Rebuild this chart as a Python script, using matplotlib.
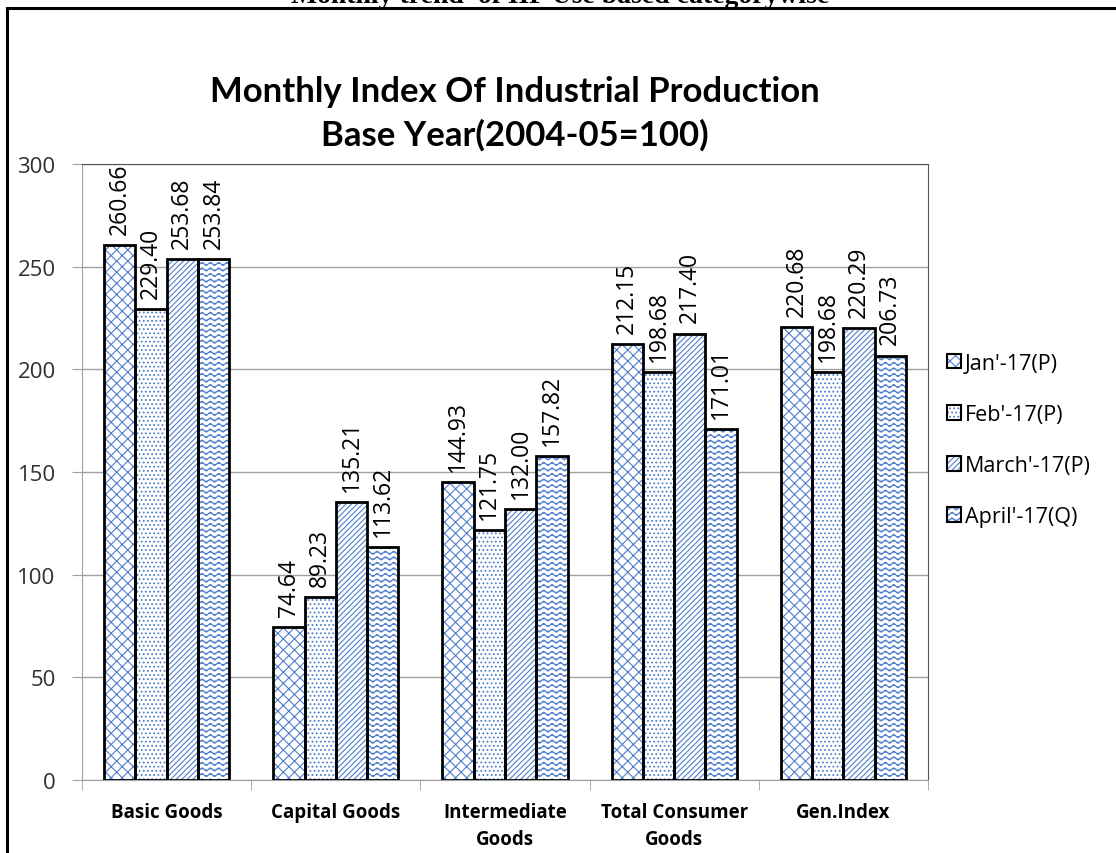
import numpy as np
import matplotlib
matplotlib.use('Agg')
import matplotlib.pyplot as plt
from matplotlib import hatch as mhatch
from matplotlib.patches import Patch
from matplotlib.lines import Line2D
import warnings

warnings.filterwarnings('ignore')

# data
categories = ['Basic Goods', 'Capital Goods', 'Intermediate\nGoods',
              'Total Consumer\nGoods', 'Gen.Index']
months = ["Jan'-17(P)", "Feb'-17(P)", "March'-17(P)", "April'-17(Q)"]
jan = [260.66, 74.64, 144.93, 212.15, 220.68]
feb = [229.40, 89.23, 121.75, 198.68, 198.68]
mar = [253.68, 135.21, 132.00, 217.40, 220.29]
apr = [253.84, 113.62, 157.82, 171.01, 206.73]
yticks = [0, 50, 100, 150, 200, 250, 300]


# wavy hatch, registered as '~'
class WaveHatch(mhatch.HatchPatternBase):
    def __init__(self, hatch, density):
        self.num_lines = int(hatch.count('~') * density)
        self.npts = 97
        self.num_vertices = self.num_lines * self.npts

    def set_vertices_and_codes(self, vertices, codes):
        xs = np.linspace(0, 1, self.npts)
        step = 1.0 / self.num_lines
        for i in range(self.num_lines):
            y0 = (i + 0.5) * step
            ys = y0 + 0.28 * step * np.sin(2 * np.pi * 12 * xs)
            sl = slice(i * self.npts, (i + 1) * self.npts)
            vertices[sl, 0] = xs
            vertices[sl, 1] = ys
            codes[sl] = 2
            codes[i * self.npts] = 1


mhatch._hatch_types.append(WaveHatch)

plt.rcParams['font.family'] = ['Open Sans', 'DejaVu Sans']
plt.rcParams['hatch.linewidth'] = 0.8

hatch_blue = '#4F7FCC'
hatches = ['xxx', '....', '//////', '~~~']
series = [jan, feb, mar, apr]

fig = plt.figure(figsize=(11.16, 8.54), dpi=100)
ax = fig.add_axes([0.0735, 0.0855, 0.758, 0.7213])

x = np.arange(len(categories))
w = 0.185
for i, vals in enumerate(series):
    pos = x + (i - 1.5) * w
    ax.bar(pos, vals, w, color='white', edgecolor=hatch_blue, hatch=hatches[i],
           linewidth=0, zorder=2)
    ax.bar(pos, vals, w, fill=False, edgecolor='black', linewidth=2, zorder=3)
    for px, v in zip(pos, vals):
        ax.annotate(f'{v:.2f}', (px, v), xytext=(0, 8), textcoords='offset points',
                    rotation=90, ha='center', va='bottom', fontsize=16.5, zorder=4)

ax.set_xlim(-0.5, 4.5)
ax.set_ylim(0, 300)
ax.set_yticks(yticks)
ax.tick_params(axis='y', labelsize=16, length=7, color='#A0A0A0', pad=12,
               labelcolor='#303030')
ax.set_xticks(x)
ax.set_xticklabels(categories, fontsize=13.5, fontweight='bold', linespacing=1.45)
ax.set_xticks(np.arange(-0.5, 5, 1), minor=True)
ax.tick_params(axis='x', which='major', length=0, pad=16)
ax.tick_params(axis='x', which='minor', length=7, color='#A0A0A0')
ax.grid(axis='y', color='#A0A0A0', linewidth=1, zorder=0)
ax.set_axisbelow(True)
ax.spines['left'].set_color('#A0A0A0')
ax.spines['bottom'].set_color('#A0A0A0')
ax.spines['top'].set_color('#555555')
ax.spines['right'].set_color('#555555')

handles = [(Patch(facecolor='white', edgecolor=hatch_blue, hatch=h, linewidth=0),
            Patch(fill=False, edgecolor='black', linewidth=1.5)) for h in hatches]
fig.legend(handles, months, loc='center left', bbox_to_anchor=(0.849, 0.4836),
           frameon=False, fontsize=15.5, handlelength=0.65, handleheight=0.65,
           handletextpad=0.15, labelspacing=1.4, borderpad=0, borderaxespad=0)

fig.text(0.4615, 0.892, 'Monthly Index Of Industrial Production', ha='center',
         va='center', fontsize=25, fontweight='bold', family='Lato')
fig.text(0.4615, 0.842, 'Base Year(2004-05=100)', ha='center', va='center',
         fontsize=25, fontweight='bold', family='Lato')

# cut-off heading of the page and frame lines
fig.text(0.502, 0.996, 'Monthly trend  of IIP Use based categorywise', ha='center',
         va='baseline', fontsize=20, fontweight='bold', family='Liberation Serif')
fig.add_artist(Line2D([0.0063, 1.0], [0.9895, 0.9895], color='black', lw=2.2))
fig.add_artist(Line2D([0.0063, 0.0063], [0.0, 0.9895], color='black', lw=2.2))

fig.savefig('out.png', dpi=100)
